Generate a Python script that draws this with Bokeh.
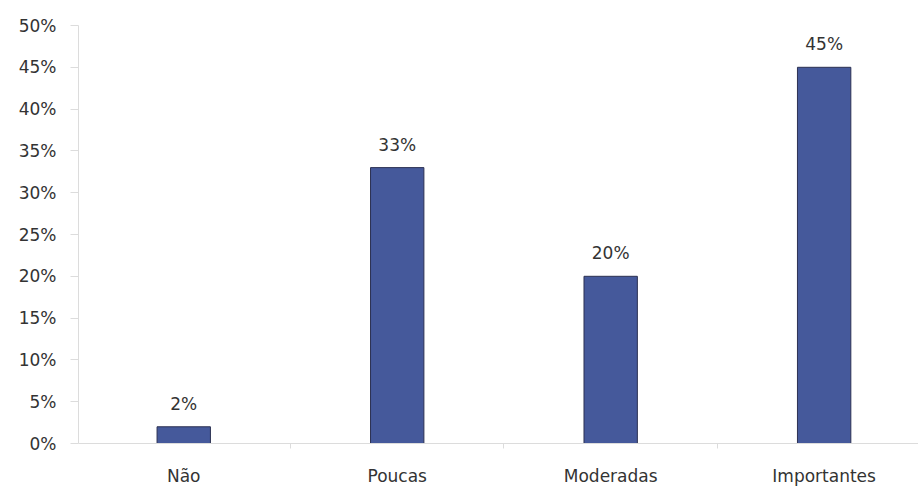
from bokeh.plotting import figure
from bokeh.models import Range1d, FixedTicker, ColumnDataSource, LabelSet
from bokeh.core.properties import value
from bokeh.embed import file_html
from bokeh.resources import INLINE

categories = ["Não", "Poucas", "Moderadas", "Importantes"]
values = [2, 33, 20, 45]
value_labels = ["2%", "33%", "20%", "45%"]
y_ticks = [0, 5, 10, 15, 20, 25, 30, 35, 40, 45, 50]

FONT = "DejaVu Sans"
TEXT = "#333333"
AXIS = "#dcdcdc"

centers = [i + 0.5 for i in range(len(categories))]
bounds = [i for i in range(1, len(categories))]

src = ColumnDataSource(dict(x=centers, val=values, lab=value_labels))

p = figure(width=918, height=488, output_backend="svg", toolbar_location=None,
           x_range=Range1d(0.007, 3.942),
           y_range=Range1d(0, 50),
           min_border_left=78, min_border_right=0, min_border_top=25, min_border_bottom=45)
p.outline_line_color = None
p.grid.visible = False
p.background_fill_color = "white"
p.border_fill_color = "white"

p.vbar(x="x", top="val", width=0.25, source=src,
       fill_color="#45599b", line_color="#2c3152", line_width=1)

labels = LabelSet(x="x", y="val", text="lab", source=src, y_offset=13,
                  text_align="center", text_baseline="bottom",
                  text_font=value(FONT), text_font_size="17px", text_color=TEXT)
p.add_layout(labels)

# y axis
p.yaxis.ticker = FixedTicker(ticks=y_ticks)
p.yaxis.major_label_overrides = {t: f"{t}%" for t in y_ticks}
p.yaxis.axis_line_color = AXIS
p.yaxis.major_tick_line_color = AXIS
p.yaxis.major_tick_out = 8
p.yaxis.major_tick_in = 0
p.yaxis.minor_tick_line_color = None
p.yaxis.major_label_standoff = 14
p.yaxis.major_label_text_font = FONT
p.yaxis.major_label_text_font_size = "17px"
p.yaxis.major_label_text_color = TEXT

# x axis: labels at category centres, separator ticks at boundaries
p.xaxis.ticker = FixedTicker(ticks=centers, minor_ticks=bounds)
p.xaxis.major_label_overrides = {c: cat for c, cat in zip(centers, categories)}
p.xaxis.axis_line_color = AXIS
p.xaxis.major_tick_line_color = None
p.xaxis.minor_tick_line_color = AXIS
p.xaxis.minor_tick_out = 5
p.xaxis.minor_tick_in = 0
p.xaxis.major_label_standoff = 16
p.xaxis.major_label_text_font = FONT
p.xaxis.major_label_text_font_size = "17px"
p.xaxis.major_label_text_color = TEXT

open("out.html", "w").write(file_html(p, INLINE))
